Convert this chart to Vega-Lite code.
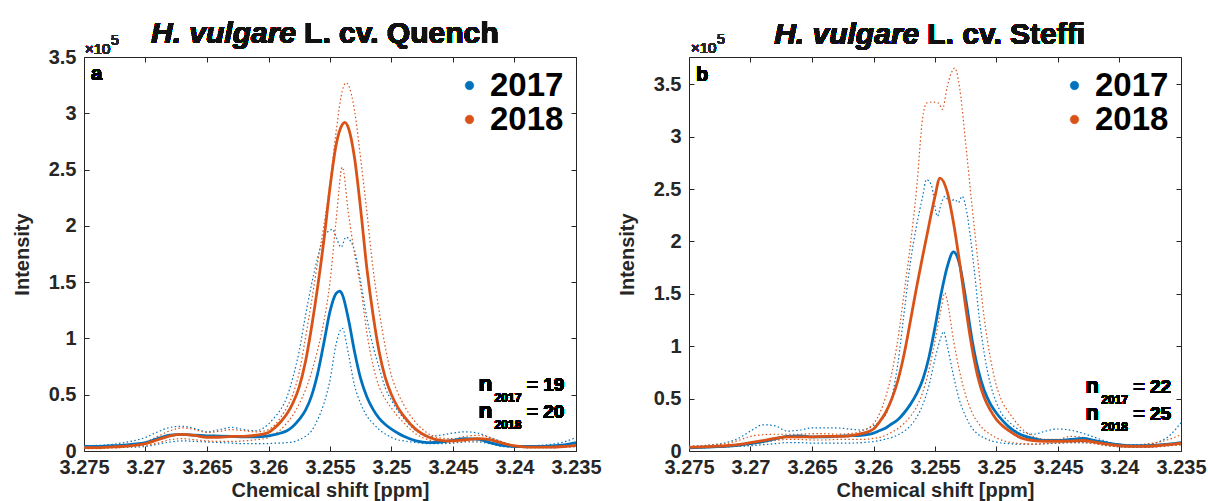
{
"$schema":"https://vega.github.io/schema/vega-lite/v6.json",
"background":"white",
"padding":{"left":11,"top":18,"right":2,"bottom":0},
"spacing":113,
"bounds":"flush",
"config":{
"view":{"stroke":"#262626","strokeWidth":1},
"font":"Liberation Sans",
"text":{"font":"Liberation Sans"},
"axis":{"grid":false,"domain":false,"tickSize":-5,"tickColor":"#262626","tickWidth":1,"labelFont":"Liberation Sans","labelFontSize":20,"labelFontWeight":"bold","labelColor":"#262626","titleFont":"Liberation Sans","titleFontSize":20,"titleFontWeight":"bold","titleColor":"#262626","labelFlush":false,"labelOverlap":false},
"legend":{"title":null,"orient":"top-right","offset":12,"padding":0,"symbolType":"circle","symbolSize":70,"symbolStrokeColor":"#1a1a1a","symbolStrokeWidth":0.8,"symbolOpacity":1,"labelFont":"Liberation Sans","labelFontSize":33,"labelFontWeight":"bold","labelColor":"#000","labelOffset":4,"rowPadding":-7}
},
"resolve":{"legend":{"color":"independent"}},
"datasets":{
"a":[
{"year":"2017","stat":"mean","ppm":3.275,"int":0.04},{"year":"2017","stat":"mean","ppm":3.274,"int":0.04},{"year":"2017","stat":"mean","ppm":3.273,"int":0.045},{"year":"2017","stat":"mean","ppm":3.272,"int":0.05},{"year":"2017","stat":"mean","ppm":3.271,"int":0.06},{"year":"2017","stat":"mean","ppm":3.27,"int":0.075},{"year":"2017","stat":"mean","ppm":3.269,"int":0.11},{"year":"2017","stat":"mean","ppm":3.268,"int":0.14},{"year":"2017","stat":"mean","ppm":3.267,"int":0.148},{"year":"2017","stat":"mean","ppm":3.266,"int":0.14},{"year":"2017","stat":"mean","ppm":3.265,"int":0.135},{"year":"2017","stat":"mean","ppm":3.264,"int":0.133},{"year":"2017","stat":"mean","ppm":3.263,"int":0.13},{"year":"2017","stat":"mean","ppm":3.262,"int":0.125},{"year":"2017","stat":"mean","ppm":3.261,"int":0.125},{"year":"2017","stat":"mean","ppm":3.26,"int":0.135},{"year":"2017","stat":"mean","ppm":3.2595,"int":0.145},{"year":"2017","stat":"mean","ppm":3.259,"int":0.16},{"year":"2017","stat":"mean","ppm":3.2585,"int":0.18},{"year":"2017","stat":"mean","ppm":3.258,"int":0.22},{"year":"2017","stat":"mean","ppm":3.2575,"int":0.28},{"year":"2017","stat":"mean","ppm":3.257,"int":0.36},{"year":"2017","stat":"mean","ppm":3.2565,"int":0.49},{"year":"2017","stat":"mean","ppm":3.256,"int":0.69},{"year":"2017","stat":"mean","ppm":3.2555,"int":0.96},{"year":"2017","stat":"mean","ppm":3.255,"int":1.24},{"year":"2017","stat":"mean","ppm":3.2545,"int":1.4},{"year":"2017","stat":"mean","ppm":3.2542,"int":1.42},{"year":"2017","stat":"mean","ppm":3.254,"int":1.39},{"year":"2017","stat":"mean","ppm":3.2535,"int":1.17},{"year":"2017","stat":"mean","ppm":3.253,"int":0.88},{"year":"2017","stat":"mean","ppm":3.2525,"int":0.64},{"year":"2017","stat":"mean","ppm":3.252,"int":0.48},{"year":"2017","stat":"mean","ppm":3.2515,"int":0.37},{"year":"2017","stat":"mean","ppm":3.251,"int":0.29},{"year":"2017","stat":"mean","ppm":3.2505,"int":0.235},{"year":"2017","stat":"mean","ppm":3.25,"int":0.195},{"year":"2017","stat":"mean","ppm":3.2495,"int":0.16},{"year":"2017","stat":"mean","ppm":3.249,"int":0.13},{"year":"2017","stat":"mean","ppm":3.248,"int":0.09},{"year":"2017","stat":"mean","ppm":3.247,"int":0.075},{"year":"2017","stat":"mean","ppm":3.246,"int":0.08},{"year":"2017","stat":"mean","ppm":3.245,"int":0.095},{"year":"2017","stat":"mean","ppm":3.244,"int":0.11},{"year":"2017","stat":"mean","ppm":3.243,"int":0.105},{"year":"2017","stat":"mean","ppm":3.242,"int":0.075},{"year":"2017","stat":"mean","ppm":3.241,"int":0.05},{"year":"2017","stat":"mean","ppm":3.24,"int":0.04},{"year":"2017","stat":"mean","ppm":3.239,"int":0.04},{"year":"2017","stat":"mean","ppm":3.238,"int":0.04},{"year":"2017","stat":"mean","ppm":3.237,"int":0.045},{"year":"2017","stat":"mean","ppm":3.236,"int":0.055},{"year":"2017","stat":"mean","ppm":3.235,"int":0.075},
{"year":"2017","stat":"upper","ppm":3.275,"int":0.045},{"year":"2017","stat":"upper","ppm":3.274,"int":0.05},{"year":"2017","stat":"upper","ppm":3.273,"int":0.055},{"year":"2017","stat":"upper","ppm":3.272,"int":0.07},{"year":"2017","stat":"upper","ppm":3.271,"int":0.09},{"year":"2017","stat":"upper","ppm":3.27,"int":0.12},{"year":"2017","stat":"upper","ppm":3.269,"int":0.17},{"year":"2017","stat":"upper","ppm":3.268,"int":0.21},{"year":"2017","stat":"upper","ppm":3.267,"int":0.22},{"year":"2017","stat":"upper","ppm":3.266,"int":0.2},{"year":"2017","stat":"upper","ppm":3.265,"int":0.17},{"year":"2017","stat":"upper","ppm":3.264,"int":0.19},{"year":"2017","stat":"upper","ppm":3.263,"int":0.21},{"year":"2017","stat":"upper","ppm":3.262,"int":0.19},{"year":"2017","stat":"upper","ppm":3.261,"int":0.18},{"year":"2017","stat":"upper","ppm":3.26,"int":0.24},{"year":"2017","stat":"upper","ppm":3.2595,"int":0.3},{"year":"2017","stat":"upper","ppm":3.259,"int":0.37},{"year":"2017","stat":"upper","ppm":3.2585,"int":0.48},{"year":"2017","stat":"upper","ppm":3.258,"int":0.66},{"year":"2017","stat":"upper","ppm":3.2575,"int":0.89},{"year":"2017","stat":"upper","ppm":3.257,"int":1.2},{"year":"2017","stat":"upper","ppm":3.2565,"int":1.48},{"year":"2017","stat":"upper","ppm":3.256,"int":1.72},{"year":"2017","stat":"upper","ppm":3.2555,"int":1.9},{"year":"2017","stat":"upper","ppm":3.255,"int":1.96},{"year":"2017","stat":"upper","ppm":3.2548,"int":1.97},{"year":"2017","stat":"upper","ppm":3.2545,"int":1.9},{"year":"2017","stat":"upper","ppm":3.2541,"int":1.81},{"year":"2017","stat":"upper","ppm":3.2537,"int":1.9},{"year":"2017","stat":"upper","ppm":3.2533,"int":1.86},{"year":"2017","stat":"upper","ppm":3.253,"int":1.78},{"year":"2017","stat":"upper","ppm":3.2525,"int":1.5},{"year":"2017","stat":"upper","ppm":3.252,"int":1.18},{"year":"2017","stat":"upper","ppm":3.2515,"int":0.93},{"year":"2017","stat":"upper","ppm":3.251,"int":0.74},{"year":"2017","stat":"upper","ppm":3.2505,"int":0.56},{"year":"2017","stat":"upper","ppm":3.25,"int":0.45},{"year":"2017","stat":"upper","ppm":3.2495,"int":0.36},{"year":"2017","stat":"upper","ppm":3.249,"int":0.29},{"year":"2017","stat":"upper","ppm":3.248,"int":0.18},{"year":"2017","stat":"upper","ppm":3.247,"int":0.13},{"year":"2017","stat":"upper","ppm":3.246,"int":0.14},{"year":"2017","stat":"upper","ppm":3.245,"int":0.16},{"year":"2017","stat":"upper","ppm":3.244,"int":0.17},{"year":"2017","stat":"upper","ppm":3.243,"int":0.16},{"year":"2017","stat":"upper","ppm":3.242,"int":0.12},{"year":"2017","stat":"upper","ppm":3.241,"int":0.08},{"year":"2017","stat":"upper","ppm":3.24,"int":0.05},{"year":"2017","stat":"upper","ppm":3.239,"int":0.045},{"year":"2017","stat":"upper","ppm":3.238,"int":0.05},{"year":"2017","stat":"upper","ppm":3.237,"int":0.06},{"year":"2017","stat":"upper","ppm":3.236,"int":0.08},{"year":"2017","stat":"upper","ppm":3.235,"int":0.12},
{"year":"2017","stat":"lower","ppm":3.275,"int":0.035},{"year":"2017","stat":"lower","ppm":3.274,"int":0.035},{"year":"2017","stat":"lower","ppm":3.273,"int":0.035},{"year":"2017","stat":"lower","ppm":3.272,"int":0.035},{"year":"2017","stat":"lower","ppm":3.271,"int":0.035},{"year":"2017","stat":"lower","ppm":3.27,"int":0.04},{"year":"2017","stat":"lower","ppm":3.269,"int":0.06},{"year":"2017","stat":"lower","ppm":3.268,"int":0.08},{"year":"2017","stat":"lower","ppm":3.267,"int":0.09},{"year":"2017","stat":"lower","ppm":3.266,"int":0.085},{"year":"2017","stat":"lower","ppm":3.265,"int":0.08},{"year":"2017","stat":"lower","ppm":3.264,"int":0.075},{"year":"2017","stat":"lower","ppm":3.263,"int":0.07},{"year":"2017","stat":"lower","ppm":3.262,"int":0.065},{"year":"2017","stat":"lower","ppm":3.261,"int":0.065},{"year":"2017","stat":"lower","ppm":3.26,"int":0.065},{"year":"2017","stat":"lower","ppm":3.2595,"int":0.07},{"year":"2017","stat":"lower","ppm":3.259,"int":0.07},{"year":"2017","stat":"lower","ppm":3.2585,"int":0.075},{"year":"2017","stat":"lower","ppm":3.258,"int":0.08},{"year":"2017","stat":"lower","ppm":3.2575,"int":0.1},{"year":"2017","stat":"lower","ppm":3.257,"int":0.13},{"year":"2017","stat":"lower","ppm":3.2565,"int":0.18},{"year":"2017","stat":"lower","ppm":3.256,"int":0.28},{"year":"2017","stat":"lower","ppm":3.2555,"int":0.42},{"year":"2017","stat":"lower","ppm":3.255,"int":0.63},{"year":"2017","stat":"lower","ppm":3.2545,"int":0.95},{"year":"2017","stat":"lower","ppm":3.254,"int":1.09},{"year":"2017","stat":"lower","ppm":3.2535,"int":0.86},{"year":"2017","stat":"lower","ppm":3.253,"int":0.58},{"year":"2017","stat":"lower","ppm":3.2525,"int":0.42},{"year":"2017","stat":"lower","ppm":3.252,"int":0.31},{"year":"2017","stat":"lower","ppm":3.2515,"int":0.245},{"year":"2017","stat":"lower","ppm":3.251,"int":0.19},{"year":"2017","stat":"lower","ppm":3.2505,"int":0.15},{"year":"2017","stat":"lower","ppm":3.25,"int":0.12},{"year":"2017","stat":"lower","ppm":3.2495,"int":0.1},{"year":"2017","stat":"lower","ppm":3.249,"int":0.09},{"year":"2017","stat":"lower","ppm":3.248,"int":0.075},{"year":"2017","stat":"lower","ppm":3.247,"int":0.065},{"year":"2017","stat":"lower","ppm":3.246,"int":0.065},{"year":"2017","stat":"lower","ppm":3.245,"int":0.07},{"year":"2017","stat":"lower","ppm":3.244,"int":0.08},{"year":"2017","stat":"lower","ppm":3.243,"int":0.08},{"year":"2017","stat":"lower","ppm":3.242,"int":0.065},{"year":"2017","stat":"lower","ppm":3.241,"int":0.04},{"year":"2017","stat":"lower","ppm":3.24,"int":0.035},{"year":"2017","stat":"lower","ppm":3.239,"int":0.03},{"year":"2017","stat":"lower","ppm":3.238,"int":0.03},{"year":"2017","stat":"lower","ppm":3.237,"int":0.03},{"year":"2017","stat":"lower","ppm":3.236,"int":0.035},{"year":"2017","stat":"lower","ppm":3.235,"int":0.04},
{"year":"2018","stat":"mean","ppm":3.275,"int":0.03},{"year":"2018","stat":"mean","ppm":3.274,"int":0.03},{"year":"2018","stat":"mean","ppm":3.273,"int":0.035},{"year":"2018","stat":"mean","ppm":3.272,"int":0.04},{"year":"2018","stat":"mean","ppm":3.271,"int":0.05},{"year":"2018","stat":"mean","ppm":3.27,"int":0.065},{"year":"2018","stat":"mean","ppm":3.269,"int":0.1},{"year":"2018","stat":"mean","ppm":3.268,"int":0.135},{"year":"2018","stat":"mean","ppm":3.267,"int":0.148},{"year":"2018","stat":"mean","ppm":3.266,"int":0.138},{"year":"2018","stat":"mean","ppm":3.265,"int":0.122},{"year":"2018","stat":"mean","ppm":3.264,"int":0.122},{"year":"2018","stat":"mean","ppm":3.263,"int":0.13},{"year":"2018","stat":"mean","ppm":3.262,"int":0.13},{"year":"2018","stat":"mean","ppm":3.261,"int":0.14},{"year":"2018","stat":"mean","ppm":3.26,"int":0.165},{"year":"2018","stat":"mean","ppm":3.2595,"int":0.205},{"year":"2018","stat":"mean","ppm":3.259,"int":0.26},{"year":"2018","stat":"mean","ppm":3.2585,"int":0.33},{"year":"2018","stat":"mean","ppm":3.258,"int":0.43},{"year":"2018","stat":"mean","ppm":3.2575,"int":0.57},{"year":"2018","stat":"mean","ppm":3.257,"int":0.79},{"year":"2018","stat":"mean","ppm":3.2565,"int":1.1},{"year":"2018","stat":"mean","ppm":3.256,"int":1.46},{"year":"2018","stat":"mean","ppm":3.2555,"int":1.87},{"year":"2018","stat":"mean","ppm":3.255,"int":2.34},{"year":"2018","stat":"mean","ppm":3.2545,"int":2.72},{"year":"2018","stat":"mean","ppm":3.254,"int":2.9},{"year":"2018","stat":"mean","ppm":3.2538,"int":2.92},{"year":"2018","stat":"mean","ppm":3.2535,"int":2.87},{"year":"2018","stat":"mean","ppm":3.253,"int":2.6},{"year":"2018","stat":"mean","ppm":3.2525,"int":2.14},{"year":"2018","stat":"mean","ppm":3.252,"int":1.62},{"year":"2018","stat":"mean","ppm":3.2515,"int":1.21},{"year":"2018","stat":"mean","ppm":3.251,"int":0.88},{"year":"2018","stat":"mean","ppm":3.2505,"int":0.65},{"year":"2018","stat":"mean","ppm":3.25,"int":0.5},{"year":"2018","stat":"mean","ppm":3.2495,"int":0.39},{"year":"2018","stat":"mean","ppm":3.249,"int":0.31},{"year":"2018","stat":"mean","ppm":3.248,"int":0.19},{"year":"2018","stat":"mean","ppm":3.247,"int":0.125},{"year":"2018","stat":"mean","ppm":3.246,"int":0.095},{"year":"2018","stat":"mean","ppm":3.245,"int":0.09},{"year":"2018","stat":"mean","ppm":3.244,"int":0.1},{"year":"2018","stat":"mean","ppm":3.243,"int":0.11},{"year":"2018","stat":"mean","ppm":3.242,"int":0.1},{"year":"2018","stat":"mean","ppm":3.241,"int":0.07},{"year":"2018","stat":"mean","ppm":3.24,"int":0.045},{"year":"2018","stat":"mean","ppm":3.239,"int":0.035},{"year":"2018","stat":"mean","ppm":3.238,"int":0.035},{"year":"2018","stat":"mean","ppm":3.237,"int":0.035},{"year":"2018","stat":"mean","ppm":3.236,"int":0.04},{"year":"2018","stat":"mean","ppm":3.235,"int":0.05},
{"year":"2018","stat":"upper","ppm":3.275,"int":0.04},{"year":"2018","stat":"upper","ppm":3.274,"int":0.04},{"year":"2018","stat":"upper","ppm":3.273,"int":0.045},{"year":"2018","stat":"upper","ppm":3.272,"int":0.05},{"year":"2018","stat":"upper","ppm":3.271,"int":0.06},{"year":"2018","stat":"upper","ppm":3.27,"int":0.08},{"year":"2018","stat":"upper","ppm":3.269,"int":0.13},{"year":"2018","stat":"upper","ppm":3.268,"int":0.18},{"year":"2018","stat":"upper","ppm":3.267,"int":0.205},{"year":"2018","stat":"upper","ppm":3.266,"int":0.19},{"year":"2018","stat":"upper","ppm":3.265,"int":0.165},{"year":"2018","stat":"upper","ppm":3.264,"int":0.175},{"year":"2018","stat":"upper","ppm":3.263,"int":0.19},{"year":"2018","stat":"upper","ppm":3.262,"int":0.18},{"year":"2018","stat":"upper","ppm":3.261,"int":0.17},{"year":"2018","stat":"upper","ppm":3.26,"int":0.19},{"year":"2018","stat":"upper","ppm":3.2595,"int":0.23},{"year":"2018","stat":"upper","ppm":3.259,"int":0.3},{"year":"2018","stat":"upper","ppm":3.2585,"int":0.39},{"year":"2018","stat":"upper","ppm":3.258,"int":0.51},{"year":"2018","stat":"upper","ppm":3.2575,"int":0.7},{"year":"2018","stat":"upper","ppm":3.257,"int":1.0},{"year":"2018","stat":"upper","ppm":3.2565,"int":1.33},{"year":"2018","stat":"upper","ppm":3.256,"int":1.68},{"year":"2018","stat":"upper","ppm":3.2555,"int":2.0},{"year":"2018","stat":"upper","ppm":3.255,"int":2.38},{"year":"2018","stat":"upper","ppm":3.2545,"int":2.84},{"year":"2018","stat":"upper","ppm":3.254,"int":3.2},{"year":"2018","stat":"upper","ppm":3.2537,"int":3.27},{"year":"2018","stat":"upper","ppm":3.2535,"int":3.25},{"year":"2018","stat":"upper","ppm":3.253,"int":3.02},{"year":"2018","stat":"upper","ppm":3.2525,"int":2.59},{"year":"2018","stat":"upper","ppm":3.252,"int":2.12},{"year":"2018","stat":"upper","ppm":3.2515,"int":1.62},{"year":"2018","stat":"upper","ppm":3.251,"int":1.24},{"year":"2018","stat":"upper","ppm":3.2505,"int":0.92},{"year":"2018","stat":"upper","ppm":3.25,"int":0.67},{"year":"2018","stat":"upper","ppm":3.2495,"int":0.52},{"year":"2018","stat":"upper","ppm":3.249,"int":0.41},{"year":"2018","stat":"upper","ppm":3.248,"int":0.25},{"year":"2018","stat":"upper","ppm":3.247,"int":0.155},{"year":"2018","stat":"upper","ppm":3.246,"int":0.115},{"year":"2018","stat":"upper","ppm":3.245,"int":0.11},{"year":"2018","stat":"upper","ppm":3.244,"int":0.13},{"year":"2018","stat":"upper","ppm":3.243,"int":0.14},{"year":"2018","stat":"upper","ppm":3.242,"int":0.12},{"year":"2018","stat":"upper","ppm":3.241,"int":0.08},{"year":"2018","stat":"upper","ppm":3.24,"int":0.05},{"year":"2018","stat":"upper","ppm":3.239,"int":0.045},{"year":"2018","stat":"upper","ppm":3.238,"int":0.045},{"year":"2018","stat":"upper","ppm":3.237,"int":0.045},{"year":"2018","stat":"upper","ppm":3.236,"int":0.05},{"year":"2018","stat":"upper","ppm":3.235,"int":0.06},
{"year":"2018","stat":"lower","ppm":3.275,"int":0.02},{"year":"2018","stat":"lower","ppm":3.274,"int":0.02},{"year":"2018","stat":"lower","ppm":3.273,"int":0.025},{"year":"2018","stat":"lower","ppm":3.272,"int":0.03},{"year":"2018","stat":"lower","ppm":3.271,"int":0.04},{"year":"2018","stat":"lower","ppm":3.27,"int":0.05},{"year":"2018","stat":"lower","ppm":3.269,"int":0.07},{"year":"2018","stat":"lower","ppm":3.268,"int":0.1},{"year":"2018","stat":"lower","ppm":3.267,"int":0.11},{"year":"2018","stat":"lower","ppm":3.266,"int":0.1},{"year":"2018","stat":"lower","ppm":3.265,"int":0.09},{"year":"2018","stat":"lower","ppm":3.264,"int":0.085},{"year":"2018","stat":"lower","ppm":3.263,"int":0.085},{"year":"2018","stat":"lower","ppm":3.262,"int":0.09},{"year":"2018","stat":"lower","ppm":3.261,"int":0.1},{"year":"2018","stat":"lower","ppm":3.26,"int":0.12},{"year":"2018","stat":"lower","ppm":3.2595,"int":0.15},{"year":"2018","stat":"lower","ppm":3.259,"int":0.19},{"year":"2018","stat":"lower","ppm":3.2585,"int":0.25},{"year":"2018","stat":"lower","ppm":3.258,"int":0.32},{"year":"2018","stat":"lower","ppm":3.2575,"int":0.42},{"year":"2018","stat":"lower","ppm":3.257,"int":0.54},{"year":"2018","stat":"lower","ppm":3.2565,"int":0.7},{"year":"2018","stat":"lower","ppm":3.256,"int":0.9},{"year":"2018","stat":"lower","ppm":3.2555,"int":1.15},{"year":"2018","stat":"lower","ppm":3.255,"int":1.5},{"year":"2018","stat":"lower","ppm":3.2545,"int":2.05},{"year":"2018","stat":"lower","ppm":3.254,"int":2.52},{"year":"2018","stat":"lower","ppm":3.2535,"int":2.11},{"year":"2018","stat":"lower","ppm":3.253,"int":1.75},{"year":"2018","stat":"lower","ppm":3.2525,"int":1.45},{"year":"2018","stat":"lower","ppm":3.252,"int":1.05},{"year":"2018","stat":"lower","ppm":3.2515,"int":0.76},{"year":"2018","stat":"lower","ppm":3.251,"int":0.57},{"year":"2018","stat":"lower","ppm":3.2505,"int":0.46},{"year":"2018","stat":"lower","ppm":3.25,"int":0.38},{"year":"2018","stat":"lower","ppm":3.2495,"int":0.31},{"year":"2018","stat":"lower","ppm":3.249,"int":0.25},{"year":"2018","stat":"lower","ppm":3.248,"int":0.15},{"year":"2018","stat":"lower","ppm":3.247,"int":0.1},{"year":"2018","stat":"lower","ppm":3.246,"int":0.08},{"year":"2018","stat":"lower","ppm":3.245,"int":0.075},{"year":"2018","stat":"lower","ppm":3.244,"int":0.085},{"year":"2018","stat":"lower","ppm":3.243,"int":0.09},{"year":"2018","stat":"lower","ppm":3.242,"int":0.08},{"year":"2018","stat":"lower","ppm":3.241,"int":0.06},{"year":"2018","stat":"lower","ppm":3.24,"int":0.04},{"year":"2018","stat":"lower","ppm":3.239,"int":0.03},{"year":"2018","stat":"lower","ppm":3.238,"int":0.03},{"year":"2018","stat":"lower","ppm":3.237,"int":0.03},{"year":"2018","stat":"lower","ppm":3.236,"int":0.035},{"year":"2018","stat":"lower","ppm":3.235,"int":0.04}
],
"b":[
{"year":"2017","stat":"mean","ppm":3.275,"int":0.03},{"year":"2017","stat":"mean","ppm":3.274,"int":0.035},{"year":"2017","stat":"mean","ppm":3.273,"int":0.04},{"year":"2017","stat":"mean","ppm":3.272,"int":0.045},{"year":"2017","stat":"mean","ppm":3.271,"int":0.055},{"year":"2017","stat":"mean","ppm":3.27,"int":0.07},{"year":"2017","stat":"mean","ppm":3.269,"int":0.09},{"year":"2017","stat":"mean","ppm":3.268,"int":0.115},{"year":"2017","stat":"mean","ppm":3.267,"int":0.14},{"year":"2017","stat":"mean","ppm":3.266,"int":0.145},{"year":"2017","stat":"mean","ppm":3.265,"int":0.135},{"year":"2017","stat":"mean","ppm":3.264,"int":0.135},{"year":"2017","stat":"mean","ppm":3.263,"int":0.14},{"year":"2017","stat":"mean","ppm":3.262,"int":0.145},{"year":"2017","stat":"mean","ppm":3.261,"int":0.15},{"year":"2017","stat":"mean","ppm":3.26,"int":0.17},{"year":"2017","stat":"mean","ppm":3.2595,"int":0.195},{"year":"2017","stat":"mean","ppm":3.259,"int":0.22},{"year":"2017","stat":"mean","ppm":3.2585,"int":0.26},{"year":"2017","stat":"mean","ppm":3.258,"int":0.3},{"year":"2017","stat":"mean","ppm":3.2575,"int":0.365},{"year":"2017","stat":"mean","ppm":3.257,"int":0.445},{"year":"2017","stat":"mean","ppm":3.2565,"int":0.545},{"year":"2017","stat":"mean","ppm":3.256,"int":0.68},{"year":"2017","stat":"mean","ppm":3.2555,"int":0.89},{"year":"2017","stat":"mean","ppm":3.255,"int":1.18},{"year":"2017","stat":"mean","ppm":3.2545,"int":1.5},{"year":"2017","stat":"mean","ppm":3.254,"int":1.76},{"year":"2017","stat":"mean","ppm":3.2535,"int":1.9},{"year":"2017","stat":"mean","ppm":3.253,"int":1.78},{"year":"2017","stat":"mean","ppm":3.2525,"int":1.45},{"year":"2017","stat":"mean","ppm":3.252,"int":1.07},{"year":"2017","stat":"mean","ppm":3.2515,"int":0.78},{"year":"2017","stat":"mean","ppm":3.251,"int":0.58},{"year":"2017","stat":"mean","ppm":3.2505,"int":0.45},{"year":"2017","stat":"mean","ppm":3.25,"int":0.36},{"year":"2017","stat":"mean","ppm":3.2495,"int":0.29},{"year":"2017","stat":"mean","ppm":3.249,"int":0.23},{"year":"2017","stat":"mean","ppm":3.248,"int":0.155},{"year":"2017","stat":"mean","ppm":3.247,"int":0.12},{"year":"2017","stat":"mean","ppm":3.246,"int":0.1},{"year":"2017","stat":"mean","ppm":3.245,"int":0.1},{"year":"2017","stat":"mean","ppm":3.244,"int":0.11},{"year":"2017","stat":"mean","ppm":3.243,"int":0.12},{"year":"2017","stat":"mean","ppm":3.242,"int":0.1},{"year":"2017","stat":"mean","ppm":3.241,"int":0.075},{"year":"2017","stat":"mean","ppm":3.24,"int":0.06},{"year":"2017","stat":"mean","ppm":3.239,"int":0.05},{"year":"2017","stat":"mean","ppm":3.238,"int":0.05},{"year":"2017","stat":"mean","ppm":3.237,"int":0.055},{"year":"2017","stat":"mean","ppm":3.236,"int":0.065},{"year":"2017","stat":"mean","ppm":3.235,"int":0.08},
{"year":"2017","stat":"upper","ppm":3.275,"int":0.045},{"year":"2017","stat":"upper","ppm":3.274,"int":0.05},{"year":"2017","stat":"upper","ppm":3.273,"int":0.06},{"year":"2017","stat":"upper","ppm":3.272,"int":0.08},{"year":"2017","stat":"upper","ppm":3.271,"int":0.12},{"year":"2017","stat":"upper","ppm":3.27,"int":0.19},{"year":"2017","stat":"upper","ppm":3.269,"int":0.25},{"year":"2017","stat":"upper","ppm":3.268,"int":0.24},{"year":"2017","stat":"upper","ppm":3.267,"int":0.19},{"year":"2017","stat":"upper","ppm":3.266,"int":0.2},{"year":"2017","stat":"upper","ppm":3.265,"int":0.22},{"year":"2017","stat":"upper","ppm":3.264,"int":0.22},{"year":"2017","stat":"upper","ppm":3.263,"int":0.22},{"year":"2017","stat":"upper","ppm":3.262,"int":0.21},{"year":"2017","stat":"upper","ppm":3.261,"int":0.2},{"year":"2017","stat":"upper","ppm":3.26,"int":0.24},{"year":"2017","stat":"upper","ppm":3.2595,"int":0.28},{"year":"2017","stat":"upper","ppm":3.259,"int":0.35},{"year":"2017","stat":"upper","ppm":3.2585,"int":0.52},{"year":"2017","stat":"upper","ppm":3.258,"int":0.85},{"year":"2017","stat":"upper","ppm":3.2575,"int":1.33},{"year":"2017","stat":"upper","ppm":3.257,"int":1.8},{"year":"2017","stat":"upper","ppm":3.2565,"int":2.15},{"year":"2017","stat":"upper","ppm":3.256,"int":2.43},{"year":"2017","stat":"upper","ppm":3.2557,"int":2.59},{"year":"2017","stat":"upper","ppm":3.2553,"int":2.54},{"year":"2017","stat":"upper","ppm":3.2548,"int":2.24},{"year":"2017","stat":"upper","ppm":3.2545,"int":2.36},{"year":"2017","stat":"upper","ppm":3.2542,"int":2.43},{"year":"2017","stat":"upper","ppm":3.2538,"int":2.38},{"year":"2017","stat":"upper","ppm":3.2534,"int":2.4},{"year":"2017","stat":"upper","ppm":3.2531,"int":2.37},{"year":"2017","stat":"upper","ppm":3.2528,"int":2.43},{"year":"2017","stat":"upper","ppm":3.2524,"int":2.27},{"year":"2017","stat":"upper","ppm":3.2521,"int":2.02},{"year":"2017","stat":"upper","ppm":3.2518,"int":1.72},{"year":"2017","stat":"upper","ppm":3.2514,"int":1.27},{"year":"2017","stat":"upper","ppm":3.251,"int":0.935},{"year":"2017","stat":"upper","ppm":3.2505,"int":0.64},{"year":"2017","stat":"upper","ppm":3.25,"int":0.46},{"year":"2017","stat":"upper","ppm":3.2496,"int":0.36},{"year":"2017","stat":"upper","ppm":3.249,"int":0.28},{"year":"2017","stat":"upper","ppm":3.248,"int":0.19},{"year":"2017","stat":"upper","ppm":3.247,"int":0.16},{"year":"2017","stat":"upper","ppm":3.246,"int":0.19},{"year":"2017","stat":"upper","ppm":3.245,"int":0.21},{"year":"2017","stat":"upper","ppm":3.244,"int":0.2},{"year":"2017","stat":"upper","ppm":3.243,"int":0.17},{"year":"2017","stat":"upper","ppm":3.242,"int":0.13},{"year":"2017","stat":"upper","ppm":3.241,"int":0.09},{"year":"2017","stat":"upper","ppm":3.24,"int":0.06},{"year":"2017","stat":"upper","ppm":3.239,"int":0.055},{"year":"2017","stat":"upper","ppm":3.238,"int":0.06},{"year":"2017","stat":"upper","ppm":3.237,"int":0.08},{"year":"2017","stat":"upper","ppm":3.236,"int":0.14},{"year":"2017","stat":"upper","ppm":3.235,"int":0.27},
{"year":"2017","stat":"lower","ppm":3.275,"int":0.03},{"year":"2017","stat":"lower","ppm":3.274,"int":0.03},{"year":"2017","stat":"lower","ppm":3.273,"int":0.035},{"year":"2017","stat":"lower","ppm":3.272,"int":0.04},{"year":"2017","stat":"lower","ppm":3.271,"int":0.045},{"year":"2017","stat":"lower","ppm":3.27,"int":0.05},{"year":"2017","stat":"lower","ppm":3.269,"int":0.06},{"year":"2017","stat":"lower","ppm":3.268,"int":0.07},{"year":"2017","stat":"lower","ppm":3.267,"int":0.08},{"year":"2017","stat":"lower","ppm":3.266,"int":0.08},{"year":"2017","stat":"lower","ppm":3.265,"int":0.075},{"year":"2017","stat":"lower","ppm":3.264,"int":0.075},{"year":"2017","stat":"lower","ppm":3.263,"int":0.075},{"year":"2017","stat":"lower","ppm":3.262,"int":0.075},{"year":"2017","stat":"lower","ppm":3.261,"int":0.08},{"year":"2017","stat":"lower","ppm":3.26,"int":0.09},{"year":"2017","stat":"lower","ppm":3.2595,"int":0.1},{"year":"2017","stat":"lower","ppm":3.259,"int":0.115},{"year":"2017","stat":"lower","ppm":3.2585,"int":0.13},{"year":"2017","stat":"lower","ppm":3.258,"int":0.155},{"year":"2017","stat":"lower","ppm":3.2575,"int":0.19},{"year":"2017","stat":"lower","ppm":3.257,"int":0.24},{"year":"2017","stat":"lower","ppm":3.2565,"int":0.32},{"year":"2017","stat":"lower","ppm":3.256,"int":0.44},{"year":"2017","stat":"lower","ppm":3.2555,"int":0.62},{"year":"2017","stat":"lower","ppm":3.255,"int":0.88},{"year":"2017","stat":"lower","ppm":3.2545,"int":1.09},{"year":"2017","stat":"lower","ppm":3.2543,"int":1.14},{"year":"2017","stat":"lower","ppm":3.254,"int":1.0},{"year":"2017","stat":"lower","ppm":3.2535,"int":0.72},{"year":"2017","stat":"lower","ppm":3.253,"int":0.48},{"year":"2017","stat":"lower","ppm":3.2525,"int":0.33},{"year":"2017","stat":"lower","ppm":3.252,"int":0.22},{"year":"2017","stat":"lower","ppm":3.2515,"int":0.16},{"year":"2017","stat":"lower","ppm":3.251,"int":0.125},{"year":"2017","stat":"lower","ppm":3.2505,"int":0.1},{"year":"2017","stat":"lower","ppm":3.25,"int":0.085},{"year":"2017","stat":"lower","ppm":3.2495,"int":0.075},{"year":"2017","stat":"lower","ppm":3.249,"int":0.07},{"year":"2017","stat":"lower","ppm":3.248,"int":0.065},{"year":"2017","stat":"lower","ppm":3.247,"int":0.065},{"year":"2017","stat":"lower","ppm":3.246,"int":0.07},{"year":"2017","stat":"lower","ppm":3.245,"int":0.075},{"year":"2017","stat":"lower","ppm":3.244,"int":0.08},{"year":"2017","stat":"lower","ppm":3.243,"int":0.08},{"year":"2017","stat":"lower","ppm":3.242,"int":0.07},{"year":"2017","stat":"lower","ppm":3.241,"int":0.05},{"year":"2017","stat":"lower","ppm":3.24,"int":0.04},{"year":"2017","stat":"lower","ppm":3.239,"int":0.035},{"year":"2017","stat":"lower","ppm":3.238,"int":0.035},{"year":"2017","stat":"lower","ppm":3.237,"int":0.04},{"year":"2017","stat":"lower","ppm":3.236,"int":0.05},{"year":"2017","stat":"lower","ppm":3.235,"int":0.06},
{"year":"2018","stat":"mean","ppm":3.275,"int":0.035},{"year":"2018","stat":"mean","ppm":3.274,"int":0.04},{"year":"2018","stat":"mean","ppm":3.273,"int":0.045},{"year":"2018","stat":"mean","ppm":3.272,"int":0.05},{"year":"2018","stat":"mean","ppm":3.271,"int":0.06},{"year":"2018","stat":"mean","ppm":3.27,"int":0.08},{"year":"2018","stat":"mean","ppm":3.269,"int":0.1},{"year":"2018","stat":"mean","ppm":3.268,"int":0.12},{"year":"2018","stat":"mean","ppm":3.267,"int":0.135},{"year":"2018","stat":"mean","ppm":3.266,"int":0.135},{"year":"2018","stat":"mean","ppm":3.265,"int":0.135},{"year":"2018","stat":"mean","ppm":3.264,"int":0.14},{"year":"2018","stat":"mean","ppm":3.263,"int":0.14},{"year":"2018","stat":"mean","ppm":3.262,"int":0.145},{"year":"2018","stat":"mean","ppm":3.261,"int":0.165},{"year":"2018","stat":"mean","ppm":3.26,"int":0.21},{"year":"2018","stat":"mean","ppm":3.2595,"int":0.28},{"year":"2018","stat":"mean","ppm":3.259,"int":0.37},{"year":"2018","stat":"mean","ppm":3.2585,"int":0.5},{"year":"2018","stat":"mean","ppm":3.258,"int":0.68},{"year":"2018","stat":"mean","ppm":3.2575,"int":0.93},{"year":"2018","stat":"mean","ppm":3.257,"int":1.24},{"year":"2018","stat":"mean","ppm":3.2565,"int":1.56},{"year":"2018","stat":"mean","ppm":3.256,"int":1.86},{"year":"2018","stat":"mean","ppm":3.2555,"int":2.15},{"year":"2018","stat":"mean","ppm":3.255,"int":2.43},{"year":"2018","stat":"mean","ppm":3.2546,"int":2.605},{"year":"2018","stat":"mean","ppm":3.254,"int":2.47},{"year":"2018","stat":"mean","ppm":3.2535,"int":2.18},{"year":"2018","stat":"mean","ppm":3.253,"int":1.8},{"year":"2018","stat":"mean","ppm":3.2525,"int":1.37},{"year":"2018","stat":"mean","ppm":3.252,"int":0.99},{"year":"2018","stat":"mean","ppm":3.2515,"int":0.7},{"year":"2018","stat":"mean","ppm":3.251,"int":0.51},{"year":"2018","stat":"mean","ppm":3.2505,"int":0.39},{"year":"2018","stat":"mean","ppm":3.25,"int":0.3},{"year":"2018","stat":"mean","ppm":3.2495,"int":0.24},{"year":"2018","stat":"mean","ppm":3.249,"int":0.195},{"year":"2018","stat":"mean","ppm":3.248,"int":0.125},{"year":"2018","stat":"mean","ppm":3.247,"int":0.1},{"year":"2018","stat":"mean","ppm":3.246,"int":0.093},{"year":"2018","stat":"mean","ppm":3.245,"int":0.093},{"year":"2018","stat":"mean","ppm":3.244,"int":0.095},{"year":"2018","stat":"mean","ppm":3.243,"int":0.1},{"year":"2018","stat":"mean","ppm":3.242,"int":0.085},{"year":"2018","stat":"mean","ppm":3.241,"int":0.065},{"year":"2018","stat":"mean","ppm":3.24,"int":0.05},{"year":"2018","stat":"mean","ppm":3.239,"int":0.045},{"year":"2018","stat":"mean","ppm":3.238,"int":0.045},{"year":"2018","stat":"mean","ppm":3.237,"int":0.05},{"year":"2018","stat":"mean","ppm":3.236,"int":0.06},{"year":"2018","stat":"mean","ppm":3.235,"int":0.075},
{"year":"2018","stat":"upper","ppm":3.275,"int":0.045},{"year":"2018","stat":"upper","ppm":3.274,"int":0.05},{"year":"2018","stat":"upper","ppm":3.273,"int":0.06},{"year":"2018","stat":"upper","ppm":3.272,"int":0.07},{"year":"2018","stat":"upper","ppm":3.271,"int":0.1},{"year":"2018","stat":"upper","ppm":3.27,"int":0.14},{"year":"2018","stat":"upper","ppm":3.269,"int":0.155},{"year":"2018","stat":"upper","ppm":3.268,"int":0.16},{"year":"2018","stat":"upper","ppm":3.267,"int":0.16},{"year":"2018","stat":"upper","ppm":3.266,"int":0.16},{"year":"2018","stat":"upper","ppm":3.265,"int":0.165},{"year":"2018","stat":"upper","ppm":3.264,"int":0.165},{"year":"2018","stat":"upper","ppm":3.263,"int":0.16},{"year":"2018","stat":"upper","ppm":3.262,"int":0.165},{"year":"2018","stat":"upper","ppm":3.261,"int":0.19},{"year":"2018","stat":"upper","ppm":3.26,"int":0.26},{"year":"2018","stat":"upper","ppm":3.2595,"int":0.36},{"year":"2018","stat":"upper","ppm":3.259,"int":0.52},{"year":"2018","stat":"upper","ppm":3.2585,"int":0.75},{"year":"2018","stat":"upper","ppm":3.258,"int":1.08},{"year":"2018","stat":"upper","ppm":3.2575,"int":1.52},{"year":"2018","stat":"upper","ppm":3.257,"int":1.97},{"year":"2018","stat":"upper","ppm":3.2565,"int":2.5},{"year":"2018","stat":"upper","ppm":3.256,"int":3.18},{"year":"2018","stat":"upper","ppm":3.2557,"int":3.32},{"year":"2018","stat":"upper","ppm":3.2552,"int":3.33},{"year":"2018","stat":"upper","ppm":3.2547,"int":3.32},{"year":"2018","stat":"upper","ppm":3.2544,"int":3.26},{"year":"2018","stat":"upper","ppm":3.254,"int":3.48},{"year":"2018","stat":"upper","ppm":3.2537,"int":3.6},{"year":"2018","stat":"upper","ppm":3.2534,"int":3.655},{"year":"2018","stat":"upper","ppm":3.2531,"int":3.54},{"year":"2018","stat":"upper","ppm":3.2529,"int":3.38},{"year":"2018","stat":"upper","ppm":3.2525,"int":2.93},{"year":"2018","stat":"upper","ppm":3.252,"int":2.35},{"year":"2018","stat":"upper","ppm":3.2515,"int":1.8},{"year":"2018","stat":"upper","ppm":3.251,"int":1.27},{"year":"2018","stat":"upper","ppm":3.2505,"int":0.89},{"year":"2018","stat":"upper","ppm":3.25,"int":0.62},{"year":"2018","stat":"upper","ppm":3.2495,"int":0.46},{"year":"2018","stat":"upper","ppm":3.249,"int":0.37},{"year":"2018","stat":"upper","ppm":3.248,"int":0.22},{"year":"2018","stat":"upper","ppm":3.247,"int":0.14},{"year":"2018","stat":"upper","ppm":3.246,"int":0.11},{"year":"2018","stat":"upper","ppm":3.245,"int":0.11},{"year":"2018","stat":"upper","ppm":3.244,"int":0.14},{"year":"2018","stat":"upper","ppm":3.243,"int":0.13},{"year":"2018","stat":"upper","ppm":3.242,"int":0.1},{"year":"2018","stat":"upper","ppm":3.241,"int":0.08},{"year":"2018","stat":"upper","ppm":3.24,"int":0.065},{"year":"2018","stat":"upper","ppm":3.239,"int":0.06},{"year":"2018","stat":"upper","ppm":3.238,"int":0.065},{"year":"2018","stat":"upper","ppm":3.237,"int":0.08},{"year":"2018","stat":"upper","ppm":3.236,"int":0.11},{"year":"2018","stat":"upper","ppm":3.235,"int":0.155},
{"year":"2018","stat":"lower","ppm":3.275,"int":0.025},{"year":"2018","stat":"lower","ppm":3.274,"int":0.03},{"year":"2018","stat":"lower","ppm":3.273,"int":0.035},{"year":"2018","stat":"lower","ppm":3.272,"int":0.04},{"year":"2018","stat":"lower","ppm":3.271,"int":0.05},{"year":"2018","stat":"lower","ppm":3.27,"int":0.06},{"year":"2018","stat":"lower","ppm":3.269,"int":0.08},{"year":"2018","stat":"lower","ppm":3.268,"int":0.1},{"year":"2018","stat":"lower","ppm":3.267,"int":0.11},{"year":"2018","stat":"lower","ppm":3.266,"int":0.11},{"year":"2018","stat":"lower","ppm":3.265,"int":0.105},{"year":"2018","stat":"lower","ppm":3.264,"int":0.105},{"year":"2018","stat":"lower","ppm":3.263,"int":0.11},{"year":"2018","stat":"lower","ppm":3.262,"int":0.11},{"year":"2018","stat":"lower","ppm":3.261,"int":0.11},{"year":"2018","stat":"lower","ppm":3.26,"int":0.12},{"year":"2018","stat":"lower","ppm":3.2595,"int":0.13},{"year":"2018","stat":"lower","ppm":3.259,"int":0.15},{"year":"2018","stat":"lower","ppm":3.2585,"int":0.18},{"year":"2018","stat":"lower","ppm":3.258,"int":0.215},{"year":"2018","stat":"lower","ppm":3.2575,"int":0.265},{"year":"2018","stat":"lower","ppm":3.257,"int":0.33},{"year":"2018","stat":"lower","ppm":3.2565,"int":0.42},{"year":"2018","stat":"lower","ppm":3.256,"int":0.56},{"year":"2018","stat":"lower","ppm":3.2555,"int":0.77},{"year":"2018","stat":"lower","ppm":3.255,"int":1.05},{"year":"2018","stat":"lower","ppm":3.2545,"int":1.36},{"year":"2018","stat":"lower","ppm":3.2542,"int":1.51},{"year":"2018","stat":"lower","ppm":3.254,"int":1.43},{"year":"2018","stat":"lower","ppm":3.2535,"int":1.06},{"year":"2018","stat":"lower","ppm":3.253,"int":0.76},{"year":"2018","stat":"lower","ppm":3.2525,"int":0.53},{"year":"2018","stat":"lower","ppm":3.252,"int":0.37},{"year":"2018","stat":"lower","ppm":3.2515,"int":0.27},{"year":"2018","stat":"lower","ppm":3.251,"int":0.2},{"year":"2018","stat":"lower","ppm":3.2505,"int":0.16},{"year":"2018","stat":"lower","ppm":3.25,"int":0.125},{"year":"2018","stat":"lower","ppm":3.2495,"int":0.1},{"year":"2018","stat":"lower","ppm":3.249,"int":0.085},{"year":"2018","stat":"lower","ppm":3.248,"int":0.07},{"year":"2018","stat":"lower","ppm":3.247,"int":0.065},{"year":"2018","stat":"lower","ppm":3.246,"int":0.07},{"year":"2018","stat":"lower","ppm":3.245,"int":0.075},{"year":"2018","stat":"lower","ppm":3.244,"int":0.08},{"year":"2018","stat":"lower","ppm":3.243,"int":0.08},{"year":"2018","stat":"lower","ppm":3.242,"int":0.07},{"year":"2018","stat":"lower","ppm":3.241,"int":0.05},{"year":"2018","stat":"lower","ppm":3.24,"int":0.04},{"year":"2018","stat":"lower","ppm":3.239,"int":0.035},{"year":"2018","stat":"lower","ppm":3.238,"int":0.035},{"year":"2018","stat":"lower","ppm":3.237,"int":0.04},{"year":"2018","stat":"lower","ppm":3.236,"int":0.05},{"year":"2018","stat":"lower","ppm":3.235,"int":0.06}
]
},
"hconcat":[
{
"width":492,"height":394,
"data":{"name":"a"},
"layer":[
{"transform":[{"filter":"datum.stat != 'mean'"}],
"mark":{"type":"line","strokeWidth":1.2,"strokeDash":[1.5,2.4],"interpolate":"monotone"},
"encoding":{
"x":{"field":"ppm","type":"quantitative","scale":{"domain":[3.235,3.275],"reverse":true,"nice":false,"zero":false},"axis":{"orient":"bottom","values":[3.275,3.27,3.265,3.26,3.255,3.25,3.245,3.24,3.235],"labelExpr":"format(datum.value,'.3~f')","title":"Chemical shift [ppm]","labelPadding":11,"titlePadding":3}},
"y":{"field":"int","type":"quantitative","scale":{"domain":[0,3.5],"nice":false,"zero":true},"axis":{"orient":"left","values":[0,0.5,1,1.5,2,2.5,3,3.5],"labelExpr":"format(datum.value,'~g')","title":"Intensity","labelPadding":13,"titlePadding":16}},
"color":{"field":"year","type":"nominal","scale":{"domain":["2017","2018"],"range":["#0072BD","#D95319"]},"legend":{"encode":{"symbols":{"update":{"fill":{"scale":"color","field":"value"},"stroke":{"value":"#1a1a1a"},"strokeWidth":{"value":0.8},"strokeDash":{"value":[1,0]},"opacity":{"value":1}}}}}},
"detail":{"field":"stat"}}},
{"transform":[{"filter":"datum.stat == 'mean' && datum.year == '2017'"}],
"mark":{"type":"line","strokeWidth":2.8,"interpolate":"monotone"},
"encoding":{"x":{"field":"ppm","type":"quantitative","axis":null},"y":{"field":"int","type":"quantitative","axis":null},"color":{"field":"year","type":"nominal"}}},
{"transform":[{"filter":"datum.stat == 'mean' && datum.year == '2018'"}],
"mark":{"type":"line","strokeWidth":2.8,"interpolate":"monotone"},
"encoding":{"x":{"field":"ppm","type":"quantitative","axis":null},"y":{"field":"int","type":"quantitative","axis":null},"color":{"field":"year","type":"nominal"}}},
{"mark":{"type":"text","text":"H. vulgare","fontSize":30,"fontWeight":"bold","fontStyle":"italic","align":"right","baseline":"alphabetic","color":"#111"},
"encoding":{"x":{"datum":3.25776,"type":"quantitative","axis":null},"y":{"datum":3.626,"type":"quantitative","axis":null}}},
{"mark":{"type":"text","text":"L. cv. Quench","fontSize":30,"fontWeight":"bold","align":"left","baseline":"alphabetic","dx":8,"color":"#111"},
"encoding":{"x":{"datum":3.25776,"type":"quantitative","axis":null},"y":{"datum":3.626,"type":"quantitative","axis":null}}},
{"mark":{"type":"text","text":"×10","fontSize":15,"align":"left","baseline":"alphabetic","dx":1,"color":"#262626"},
"encoding":{"x":{"datum":3.275,"type":"quantitative","axis":null},"y":{"datum":3.529,"type":"quantitative","axis":null}}},
{"mark":{"type":"text","text":"5","fontSize":14,"align":"left","baseline":"alphabetic","dx":27,"dy":-9,"color":"#262626"},
"encoding":{"x":{"datum":3.275,"type":"quantitative","axis":null},"y":{"datum":3.529,"type":"quantitative","axis":null}}},
{"mark":{"type":"text","text":"a","fontSize":20,"fontWeight":"bold","align":"left","baseline":"alphabetic","dx":7,"color":"#000"},
"encoding":{"x":{"datum":3.275,"type":"quantitative","axis":{"orient":"top","values":[3.275,3.27,3.265,3.26,3.255,3.25,3.245,3.24,3.235],"labels":false,"title":null}},"y":{"datum":3.3,"type":"quantitative","axis":{"orient":"right","values":[0,0.5,1,1.5,2,2.5,3,3.5],"labels":false,"title":null}}}},
{"mark":{"type":"text","text":"= 19","fontSize":19,"fontWeight":"bold","align":"right","baseline":"alphabetic","color":"#000"},
"encoding":{"x":{"datum":3.23595,"type":"quantitative","axis":null},"y":{"datum":0.533,"type":"quantitative","axis":null}}},
{"mark":{"type":"text","text":"2017","fontSize":12,"fontWeight":"bold","align":"right","baseline":"alphabetic","dx":-43,"dy":11,"color":"#000"},
"encoding":{"x":{"datum":3.23595,"type":"quantitative","axis":null},"y":{"datum":0.533,"type":"quantitative","axis":null}}},
{"mark":{"type":"text","text":"n","fontSize":22,"fontWeight":"bold","align":"right","baseline":"alphabetic","dx":-72,"color":"#000"},
"encoding":{"x":{"datum":3.23595,"type":"quantitative","axis":null},"y":{"datum":0.533,"type":"quantitative","axis":null}}},
{"mark":{"type":"text","text":"= 20","fontSize":19,"fontWeight":"bold","align":"right","baseline":"alphabetic","color":"#000"},
"encoding":{"x":{"datum":3.23595,"type":"quantitative","axis":null},"y":{"datum":0.296,"type":"quantitative","axis":null}}},
{"mark":{"type":"text","text":"2018","fontSize":12,"fontWeight":"bold","align":"right","baseline":"alphabetic","dx":-43,"dy":11,"color":"#000"},
"encoding":{"x":{"datum":3.23595,"type":"quantitative","axis":null},"y":{"datum":0.296,"type":"quantitative","axis":null}}},
{"mark":{"type":"text","text":"n","fontSize":22,"fontWeight":"bold","align":"right","baseline":"alphabetic","dx":-72,"color":"#000"},
"encoding":{"x":{"datum":3.23595,"type":"quantitative","axis":null},"y":{"datum":0.296,"type":"quantitative","axis":null}}}
]
},
{
"width":492,"height":394,
"data":{"name":"b"},
"layer":[
{"transform":[{"filter":"datum.stat != 'mean'"}],
"mark":{"type":"line","strokeWidth":1.2,"strokeDash":[1.5,2.4],"interpolate":"monotone"},
"encoding":{
"x":{"field":"ppm","type":"quantitative","scale":{"domain":[3.235,3.275],"reverse":true,"nice":false,"zero":false},"axis":{"orient":"bottom","values":[3.275,3.27,3.265,3.26,3.255,3.25,3.245,3.24,3.235],"labelExpr":"format(datum.value,'.3~f')","title":"Chemical shift [ppm]","labelPadding":11,"titlePadding":3}},
"y":{"field":"int","type":"quantitative","scale":{"domain":[0,3.76],"nice":false,"zero":true},"axis":{"orient":"left","values":[0,0.5,1,1.5,2,2.5,3,3.5],"labelExpr":"format(datum.value,'~g')","title":"Intensity","labelPadding":13,"titlePadding":16}},
"color":{"field":"year","type":"nominal","scale":{"domain":["2017","2018"],"range":["#0072BD","#D95319"]},"legend":{"encode":{"symbols":{"update":{"fill":{"scale":"color","field":"value"},"stroke":{"value":"#1a1a1a"},"strokeWidth":{"value":0.8},"strokeDash":{"value":[1,0]},"opacity":{"value":1}}}}}},
"detail":{"field":"stat"}}},
{"transform":[{"filter":"datum.stat == 'mean' && datum.year == '2017'"}],
"mark":{"type":"line","strokeWidth":2.8,"interpolate":"monotone"},
"encoding":{"x":{"field":"ppm","type":"quantitative","axis":null},"y":{"field":"int","type":"quantitative","axis":null},"color":{"field":"year","type":"nominal"}}},
{"transform":[{"filter":"datum.stat == 'mean' && datum.year == '2018'"}],
"mark":{"type":"line","strokeWidth":2.8,"interpolate":"monotone"},
"encoding":{"x":{"field":"ppm","type":"quantitative","axis":null},"y":{"field":"int","type":"quantitative","axis":null},"color":{"field":"year","type":"nominal"}}},
{"mark":{"type":"text","text":"H. vulgare","fontSize":30,"fontWeight":"bold","fontStyle":"italic","align":"right","baseline":"alphabetic","color":"#111"},
"encoding":{"x":{"datum":3.25628,"type":"quantitative","axis":null},"y":{"datum":3.887,"type":"quantitative","axis":null}}},
{"mark":{"type":"text","text":"L. cv. Steffi","fontSize":30,"fontWeight":"bold","align":"left","baseline":"alphabetic","dx":8,"color":"#111"},
"encoding":{"x":{"datum":3.25628,"type":"quantitative","axis":null},"y":{"datum":3.887,"type":"quantitative","axis":null}}},
{"mark":{"type":"text","text":"×10","fontSize":15,"align":"left","baseline":"alphabetic","dx":2,"color":"#262626"},
"encoding":{"x":{"datum":3.275,"type":"quantitative","axis":null},"y":{"datum":3.798,"type":"quantitative","axis":null}}},
{"mark":{"type":"text","text":"5","fontSize":14,"align":"left","baseline":"alphabetic","dx":28,"dy":-9,"color":"#262626"},
"encoding":{"x":{"datum":3.275,"type":"quantitative","axis":null},"y":{"datum":3.798,"type":"quantitative","axis":null}}},
{"mark":{"type":"text","text":"b","fontSize":20,"fontWeight":"bold","align":"left","baseline":"alphabetic","dx":7,"color":"#000"},
"encoding":{"x":{"datum":3.275,"type":"quantitative","axis":{"orient":"top","values":[3.275,3.27,3.265,3.26,3.255,3.25,3.245,3.24,3.235],"labels":false,"title":null}},"y":{"datum":3.53,"type":"quantitative","axis":{"orient":"right","values":[0,0.5,1,1.5,2,2.5,3,3.5],"labels":false,"title":null}}}},
{"mark":{"type":"text","text":"= 22","fontSize":19,"fontWeight":"bold","align":"right","baseline":"alphabetic","color":"#000"},
"encoding":{"x":{"datum":3.23581,"type":"quantitative","axis":null},"y":{"datum":0.553,"type":"quantitative","axis":null}}},
{"mark":{"type":"text","text":"2017","fontSize":12,"fontWeight":"bold","align":"right","baseline":"alphabetic","dx":-43,"dy":11,"color":"#000"},
"encoding":{"x":{"datum":3.23581,"type":"quantitative","axis":null},"y":{"datum":0.553,"type":"quantitative","axis":null}}},
{"mark":{"type":"text","text":"n","fontSize":22,"fontWeight":"bold","align":"right","baseline":"alphabetic","dx":-72,"color":"#000"},
"encoding":{"x":{"datum":3.23581,"type":"quantitative","axis":null},"y":{"datum":0.553,"type":"quantitative","axis":null}}},
{"mark":{"type":"text","text":"= 25","fontSize":19,"fontWeight":"bold","align":"right","baseline":"alphabetic","color":"#000"},
"encoding":{"x":{"datum":3.23581,"type":"quantitative","axis":null},"y":{"datum":0.299,"type":"quantitative","axis":null}}},
{"mark":{"type":"text","text":"2018","fontSize":12,"fontWeight":"bold","align":"right","baseline":"alphabetic","dx":-43,"dy":11,"color":"#000"},
"encoding":{"x":{"datum":3.23581,"type":"quantitative","axis":null},"y":{"datum":0.299,"type":"quantitative","axis":null}}},
{"mark":{"type":"text","text":"n","fontSize":22,"fontWeight":"bold","align":"right","baseline":"alphabetic","dx":-72,"color":"#000"},
"encoding":{"x":{"datum":3.23581,"type":"quantitative","axis":null},"y":{"datum":0.299,"type":"quantitative","axis":null}}}
]
}
]
}
